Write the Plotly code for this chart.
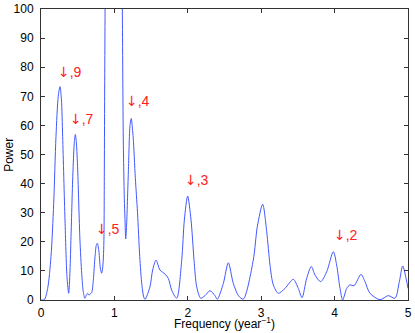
import plotly.graph_objects as go

# Periodogram trace (frequency in year^-1, power)
freq = [0.00, 0.045, 0.091, 0.136, 0.173, 0.204, 0.235, 0.259, 0.278, 0.295,
        0.327, 0.354, 0.377, 0.395, 0.409, 0.436, 0.455, 0.468, 0.482, 0.50,
        0.53, 0.555, 0.575, 0.597, 0.615, 0.636, 0.652, 0.667, 0.69, 0.713,
        0.736, 0.755, 0.768, 0.79, 0.808, 0.826, 0.84, 0.852, 0.858, 0.863,
        0.868, 0.873, 0.88, 0.90, 0.95, 0.99, 1.03, 1.08, 1.10, 1.108,
        1.121, 1.135, 1.144, 1.154, 1.165, 1.19, 1.213, 1.23, 1.245, 1.257,
        1.285, 1.315, 1.345, 1.375, 1.40, 1.417, 1.485, 1.521, 1.567, 1.621,
        1.69, 1.735, 1.78, 1.849, 1.917, 1.953, 1.998, 2.044, 2.085, 2.121,
        2.176, 2.234, 2.302, 2.37, 2.402, 2.484, 2.552, 2.62, 2.69, 2.756,
        2.892, 2.947, 3.02, 3.075, 3.12, 3.165, 3.233, 3.324, 3.437, 3.505,
        3.556, 3.62, 3.683, 3.733, 3.81, 3.892, 3.983, 4.028, 4.074, 4.11,
        4.165, 4.21, 4.264, 4.36, 4.414, 4.482, 4.618, 4.732, 4.823, 4.882,
        4.928, 4.973, 5.0]
power = [0.0, 0.1, 4.0, 14.9, 33.2, 56.1, 70.0, 73.3, 69.0, 56.1,
         27.5, 8.0, 2.3, 10.0, 21.8, 44.7, 54.5, 56.9, 54.0, 44.7,
         21.0, 9.0, 3.0, 0.6, 1.5, 2.3, 1.7, 2.0, 2.5, 6.9,
         14.9, 19.0, 19.5, 16.5, 11.0, 9.2, 11.0, 16.0, 22.0, 45.0,
         75.0, 100.0, 140.0, 220.0, 320.0, 350.0, 320.0, 200.0, 125.0, 100.0,
         55.6, 35.0, 28.0, 21.0, 25.0, 44.0, 60.0, 62.4, 59.0, 55.6,
         42.0, 30.0, 15.0, 5.0, 1.0, 0.2, 4.6, 10.3, 13.7, 10.3,
         8.9, 7.4, 3.4, 0.6, 13.7, 27.5, 35.7, 27.5, 13.7, 4.6,
         0.6, 1.5, 3.2, 1.5, 0.3, 5.7, 12.8, 5.7, 1.5, 0.3,
         13.7, 25.2, 32.9, 23.5, 12.0, 5.2, 2.3, 4.0, 7.1, 4.0,
         0.8, 7.5, 11.5, 8.6, 6.3, 9.7, 16.6, 12.0, 4.0, 0.0,
         4.0, 5.2, 4.9, 8.8, 6.3, 2.3, 0.1, 1.5, 0.6, 6.3,
         11.7, 7.5, 4.0]

# Peak labels
label_text = ["↓,9", "↓,7", "↓,4", "↓,5", "↓,3", "↓,2"]
label_x = [0.20, 0.364, 1.132, 0.727, 1.94, 3.958]
label_y = [78.5, 62.2, 68.4, 24.4, 41.4, 22.3]

x_ticks = [0, 1, 2, 3, 4, 5]
y_ticks = [0, 10, 20, 30, 40, 50, 60, 70, 80, 90, 100]

FONT = "Liberation Sans, Arial, sans-serif"

fig = go.Figure()
fig.add_trace(go.Scatter(
    x=freq, y=power, mode="lines",
    line=dict(color="#4258ff", width=1, shape="spline", smoothing=0.8),
    hoverinfo="skip", showlegend=False,
))

for t, xx, yy in zip(label_text, label_x, label_y):
    arrow, rest = t[0], t[1:]
    fig.add_annotation(
        x=xx, y=yy,
        text='<span style="font-family:DejaVu Sans">' + arrow + '</span>' + rest,
        showarrow=False, xanchor="left", yanchor="middle",
        font=dict(family=FONT, size=14, color="#ff2020"))

# axis titles
fig.add_annotation(x=0.5, y=-0.079, xref="paper", yref="paper",
                   text="Frequency (year<sup>−1</sup>)", showarrow=False,
                   xanchor="center", yanchor="middle",
                   font=dict(family=FONT, size=12, color="#000000"))
fig.add_annotation(x=-0.089, y=0.5, xref="paper", yref="paper",
                   text="Power", showarrow=False, textangle=-90,
                   xanchor="center", yanchor="middle",
                   font=dict(family=FONT, size=12, color="#000000"))

axis_common = dict(
    showline=True, linecolor="#333333", linewidth=1, mirror="ticks",
    ticks="inside", ticklen=4, tickcolor="#333333", tickwidth=1,
    showgrid=False, zeroline=False, automargin=False,
    tickfont=dict(family=FONT, size=12, color="#000000"),
)

fig.update_layout(
    width=415, height=333,
    margin=dict(l=41, r=7, t=9, b=33),
    paper_bgcolor="white", plot_bgcolor="white",
    xaxis=dict(range=[0, 5], tickvals=x_ticks, ticktext=[str(v) for v in x_ticks],
               ticklabelstandoff=2, **axis_common),
    yaxis=dict(range=[0, 100], tickvals=y_ticks, ticktext=[str(v) for v in y_ticks],
               ticklabelstandoff=4, **axis_common),
)

fig.write_html("out.html",
               config={"displayModeBar": False},
               post_script="document.body.style.margin='0';"
                           "document.body.style.overflow='hidden';")
